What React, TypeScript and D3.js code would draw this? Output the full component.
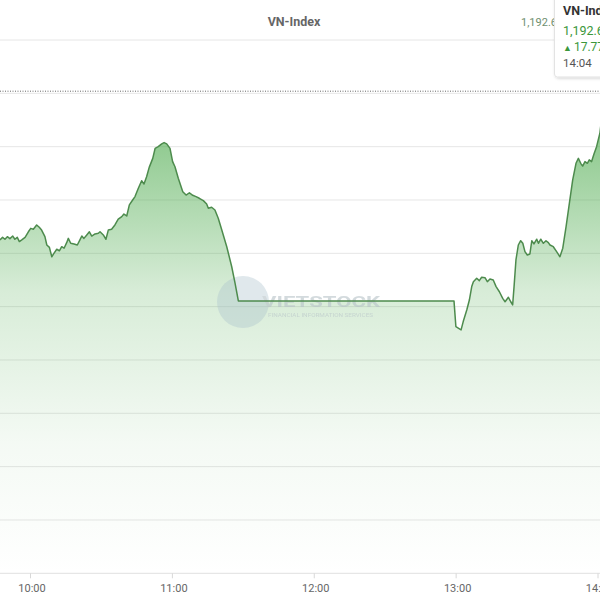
import React from "react";
import * as d3 from "d3";

// minutes after midnight
const times: number[] = [
  587.1, 588.2, 589.2, 590.2, 591.3, 592.5, 593.4, 594.4, 595.3, 596.3, 597.7, 599.1, 600.1, 601.2, 602.6, 603.7,
  604.7, 606.1, 606.9, 608.0, 609.0, 609.9, 611.1, 612.2, 613.2, 614.2, 615.3, 616.0, 617.0, 618.4, 619.8, 620.9,
  621.7, 622.6, 623.8, 624.9, 625.9, 627.3, 628.7, 629.4, 630.8, 631.9, 632.9, 634.3, 635.7, 637.1, 638.6, 639.5,
  640.7, 641.8, 643.2, 644.2, 645.6, 647.0, 648.0, 649.1, 650.2, 651.7, 652.7, 654.0, 655.5, 656.5, 657.6, 659.0,
  660.1, 661.1, 662.5, 664.4, 665.8, 667.2, 668.6, 670.0, 671.4, 673.1, 674.5, 675.2, 676.6, 678.0, 679.4, 680.9,
  683.0, 685.1, 686.5, 687.9,
  779.1, 779.9, 780.9, 782.1, 783.0, 784.5, 785.6, 786.6, 787.3, 788.7, 789.8, 790.8, 792.2, 793.2, 794.3, 795.7,
  796.9, 798.3, 799.7, 800.7, 802.1, 803.1, 803.9, 804.5, 805.3, 806.3, 807.3, 808.2, 809.1, 810.1, 811.2, 812.0,
  812.9, 814.1, 814.8, 815.8, 816.9, 818.0, 819.0, 819.7, 821.1, 822.5, 823.9, 825.1, 826.5, 827.9, 829.3, 830.7,
  831.7, 832.7, 833.5, 834.5, 835.5, 836.3, 837.3, 838.3, 839.4, 840.8, 842.5, 844.0,
];

const values: number[] = [
  1185.63, 1185.75, 1185.66, 1185.78, 1185.69, 1185.81, 1185.66, 1185.75, 1185.55, 1185.63, 1185.75, 1186.01, 1186.17, 1186.13, 1186.33, 1186.22,
  1186.09, 1185.78, 1185.39, 1185.28, 1184.84, 1185.0, 1185.19, 1185.12, 1185.31, 1185.24, 1185.5, 1185.7, 1185.47, 1185.44, 1185.39, 1185.63,
  1185.81, 1185.7, 1185.86, 1186.01, 1185.81, 1185.91, 1185.94, 1186.01, 1185.86, 1185.66, 1186.09, 1186.13, 1186.33, 1186.6, 1186.72, 1186.84,
  1186.75, 1187.27, 1187.5, 1187.66, 1188.05, 1188.4, 1188.25, 1188.59, 1189.03, 1189.45, 1189.92, 1190.0, 1190.13, 1190.19, 1190.13, 1189.92,
  1189.3, 1189.06, 1188.52, 1187.89, 1187.73, 1187.84, 1187.72, 1187.66, 1187.58, 1187.47, 1187.31, 1187.11, 1187.16, 1187.03, 1186.64, 1186.09,
  1185.31, 1184.37, 1183.6, 1182.77,
  1182.77, 1181.56, 1181.49, 1181.41, 1181.8, 1182.34, 1182.81, 1183.44, 1183.67, 1183.83, 1183.72, 1183.88, 1183.86, 1183.67, 1183.8, 1183.75,
  1183.44, 1183.2, 1182.89, 1182.73, 1182.94, 1182.73, 1182.58, 1183.44, 1184.69, 1185.39, 1185.59, 1185.47, 1185.08, 1184.92, 1184.97, 1185.59,
  1185.44, 1185.66, 1185.47, 1185.66, 1185.47, 1185.59, 1185.5, 1185.39, 1185.31, 1185.08, 1184.84, 1185.24, 1186.25, 1187.35, 1188.44, 1189.22,
  1189.45, 1189.22, 1189.09, 1189.3, 1189.22, 1189.38, 1189.3, 1189.66, 1190.0, 1190.63, 1192.19, 1192.6,
];

const tickTimes: number[] = [600, 660, 720, 780, 840];
const tickLabels: string[] = ["10:00", "11:00", "12:00", "13:00", "14:00"];
const gridValues: number[] = [1172.5, 1175, 1177.5, 1180, 1182.5, 1185, 1187.5, 1190, 1192.5, 1195];

const title = "VN-Index";
const lastValue = 1192.6;
const lastValueLabel = "1,192.6";
const changeLabel = "17.77";
const lastTimeLabel = "14:04";

const FONT = "Roboto, 'Open Sans', sans-serif";

export default function App() {
  const W = 600;
  const H = 600;
  const yMin = 1170;
  const x = d3.scaleLinear().domain([600, 840]).range([30.5, 598]);
  const y = d3.scaleLinear().domain([yMin, 1195]).range([573.3, 40]);

  const data = times.map((t, i) => ({ t, v: values[i] }));
  const line = d3
    .line<{ t: number; v: number }>()
    .x((d) => x(d.t))
    .y((d) => y(d.v));
  const area = d3
    .area<{ t: number; v: number }>()
    .x((d) => x(d.t))
    .y0(y(yMin))
    .y1((d) => y(d.v));

  return (
    <svg
      width={W}
      height={H}
      style={{ position: "absolute", left: 0, top: 0, background: "#fff" }}
      fontFamily={FONT}
    >
      <defs>
        <linearGradient id="fillGrad" gradientUnits="userSpaceOnUse" x1="0" y1={y(1190.3)} x2="0" y2={y(yMin)}>
          <stop offset="0" stopColor="#4caa4c" stopOpacity={0.62} />
          <stop offset="0.35" stopColor="#4caa4c" stopOpacity={0.22} />
          <stop offset="0.7" stopColor="#4caa4c" stopOpacity={0.06} />
          <stop offset="1" stopColor="#4caa4c" stopOpacity={0} />
        </linearGradient>
        <filter id="shadow" x="-20%" y="-20%" width="140%" height="140%">
          <feDropShadow dx="1" dy="1" stdDeviation="1.5" floodColor="#000" floodOpacity="0.18" />
        </filter>
      </defs>

      {/* grid */}
      {gridValues.map((g) => (
        <line key={g} x1={0} x2={W} y1={y(g)} y2={y(g)} stroke="#e6e6e6" strokeWidth={1} />
      ))}

      {/* area */}
      <path d={area(data) || ""} fill="url(#fillGrad)" />

      {/* watermark */}
      <g opacity={0.6}>
        <circle cx={243} cy={302} r={26} fill="#a9bfcc" opacity={0.6} />
        <text x={262} y={307} fontSize={15} fontWeight="bold" fill="#b7c3c8" textLength={118} lengthAdjust="spacingAndGlyphs">
          VIETSTOCK
        </text>
        <text x={268} y={317} fontSize={5.5} fill="#b7c3c8" textLength={105} lengthAdjust="spacingAndGlyphs">
          FINANCIAL INFORMATION SERVICES
        </text>
      </g>

      <path d={line(data) || ""} fill="none" stroke="#4d8b4d" strokeWidth={1.5} strokeLinejoin="round" />

      {/* current value dotted line */}
      <line x1={0} x2={W} y1={y(lastValue)} y2={y(lastValue)} stroke="#666" strokeWidth={1} strokeDasharray="1 1.5" />

      {/* x axis */}
      <line x1={0} x2={W} y1={y(yMin)} y2={y(yMin)} stroke="#e0e0e0" strokeWidth={1} />
      {tickTimes.map((t, i) => (
        <g key={t}>
          <line x1={x(t)} x2={x(t)} y1={y(yMin)} y2={y(yMin) + 5} stroke="#d8d8d8" strokeWidth={1} />
          <text x={x(t) + 1.5} y={592} fontSize={11} fill="#666" textAnchor="middle">
            {tickLabels[i]}
          </text>
        </g>
      ))}

      {/* title */}
      <text x={294} y={26} fontSize={12.5} fontWeight="bold" fill="#666" textAnchor="middle">
        {title}
      </text>
      <text x={521} y={26} fontSize={11} fill="#6f8f6f">
        {lastValueLabel}
      </text>

      {/* tooltip */}
      <g filter="url(#shadow)">
        <rect x={554.5} y={-6} width={60} height={83} rx={3} fill="#fff" fillOpacity={0.97} stroke="#e3e3e3" />
      </g>
      <text x={563} y={15} fontSize={12.5} fontWeight="bold" fill="#333">
        {title}
      </text>
      <text x={563} y={35} fontSize={12.5} fill="#3b973b">
        {lastValueLabel}
      </text>
      <text x={563} y={51} fontSize={12} fill="#3b973b">
        <tspan fontSize={9}>▲</tspan>
        <tspan dx={2}>{changeLabel}</tspan>
      </text>
      <text x={563} y={67} fontSize={11.5} fill="#555">
        {lastTimeLabel}
      </text>
    </svg>
  );
}
